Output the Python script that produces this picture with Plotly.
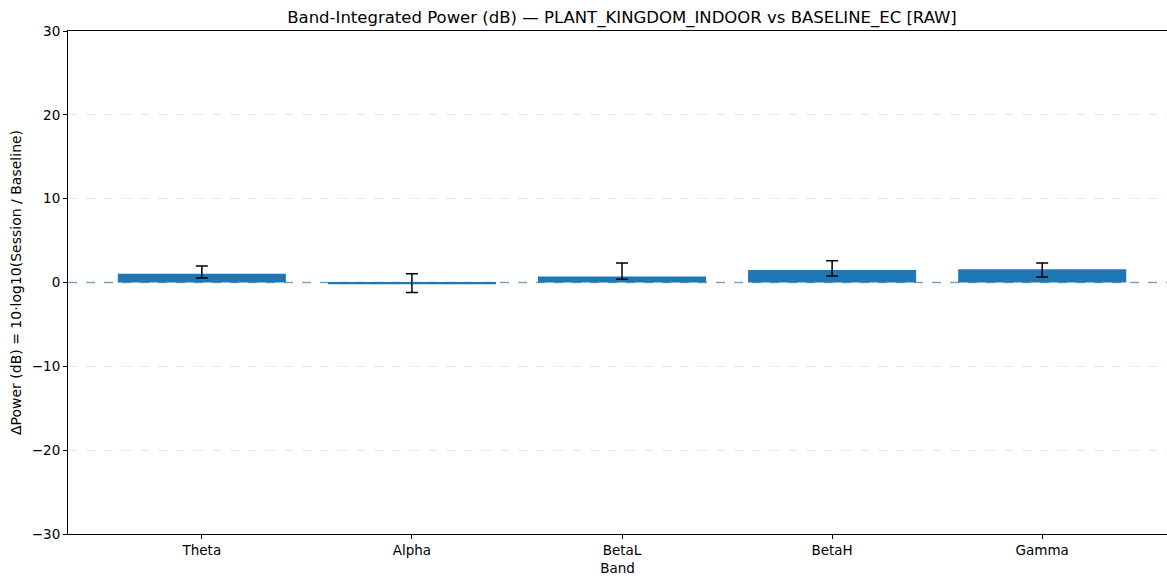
import plotly.graph_objects as go

bands = ["Theta", "Alpha", "BetaL", "BetaH", "Gamma"]
delta_db = [1.03, -0.20, 0.72, 1.50, 1.59]
err_plus = [0.95, 1.23, 1.62, 1.08, 0.75]
err_minus = [0.48, 0.99, 0.33, 0.71, 0.92]
y_ticks = [-30, -20, -10, 0, 10, 20, 30]
y_tick_text = ["\u221230", "\u221220", "\u221210", "0", "10", "20", "30"]

FONT = "DejaVu Sans"
BLUE = "#1f77b4"

fig = go.Figure()
fig.add_trace(go.Bar(
    x=list(range(len(bands))),
    y=delta_db,
    width=0.8,
    marker=dict(color=BLUE, line=dict(width=0)),
    error_y=dict(type="data", symmetric=False, array=err_plus, arrayminus=err_minus,
                 color="black", thickness=1.5, width=6),
    showlegend=False,
))

# baseline reference at 0 dB
fig.add_shape(type="line", xref="paper", x0=0, x1=1, yref="y", y0=0, y1=0,
              line=dict(color="rgba(31,119,180,0.6)", width=1.6, dash="dash"),
              layer="above")

fig.update_layout(
    width=1167, height=578,
    margin=dict(l=68, r=0, t=31, b=44),
    plot_bgcolor="white", paper_bgcolor="white",
    font=dict(family=FONT, size=13.5, color="black"),
    title=dict(text="Band-Integrated Power (dB) \u2014 PLANT_KINGDOM_INDOOR vs BASELINE_EC [RAW]",
               x=622 / 1167, xref="container", xanchor="center",
               y=1 - 17 / 578, yref="container", yanchor="middle",
               font=dict(family=FONT, size=16.5, color="black")),
    bargap=0.2,
)
fig.update_xaxes(
    range=[-0.637, 4.594],
    tickvals=list(range(len(bands))), ticktext=bands,
    ticks="outside", ticklen=4, tickcolor="black", tickwidth=1,
    showline=True, linecolor="black", linewidth=1, mirror=True,
    showgrid=False, zeroline=False,
    title=dict(text="Band", font=dict(size=13.5), standoff=6),
)
fig.update_yaxes(
    range=[-30, 30],
    tickvals=y_ticks, ticktext=y_tick_text,
    ticks="outside", ticklen=4, tickcolor="black", tickwidth=1,
    showline=True, linecolor="black", linewidth=1,
    showgrid=True, gridcolor="rgba(176,176,176,0.3)", griddash="dash", gridwidth=1,
    zeroline=False,
    title=dict(text="\u0394Power (dB) = 10\u00b7log10(Session / Baseline)", font=dict(size=14), standoff=6),
)

fig.write_html("out.html")
